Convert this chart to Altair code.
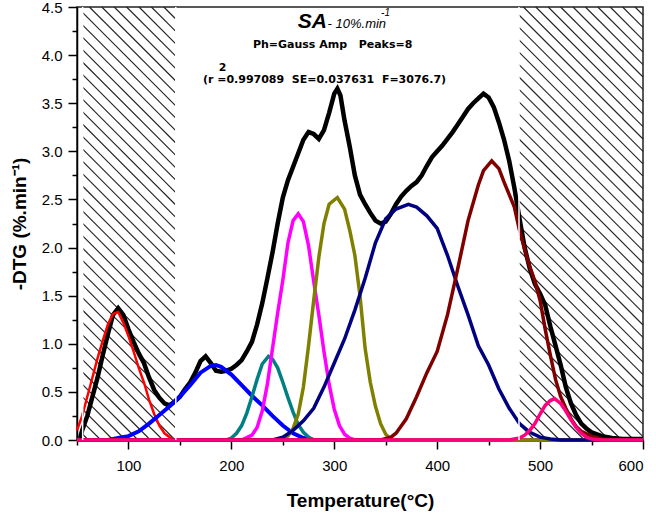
import altair as alt
import pandas as pd

# ---------------- data ----------------
T_DOMAIN = [50, 600]
DTG_DOMAIN = [0, 4.5]

exp_T = [53, 55, 60, 65, 70, 75, 80, 85, 90, 95, 100, 105, 110, 115, 120, 125, 130, 135, 140, 145,
         150, 155, 160, 165, 170, 175, 180, 185, 190, 195, 200, 205, 210, 215, 220, 225, 230,
         235, 240, 245, 250, 255, 260, 265, 270, 275, 280, 285, 290, 295, 300, 303, 306, 310,
         315, 320, 325, 330, 335, 340, 345, 350, 355, 360, 365, 370, 375, 380, 385, 390, 395,
         400, 405, 410, 415, 420, 425, 430, 435, 440, 445, 450, 455, 460, 465, 470, 475, 480,
         485, 490, 495, 500, 505, 510, 515, 520, 525, 530, 535, 540, 545, 550, 560, 570, 580, 600]
exp_DTG = [0.02, 0.10, 0.25, 0.45, 0.65, 0.88, 1.10, 1.30, 1.37, 1.30, 1.15, 1.02, 0.90, 0.80, 0.65,
           0.52, 0.44, 0.38, 0.36, 0.40, 0.45, 0.53, 0.60, 0.70, 0.82, 0.87, 0.80, 0.72, 0.71,
           0.72, 0.74, 0.78, 0.83, 0.92, 1.02, 1.20, 1.42, 1.68, 1.95, 2.25, 2.52, 2.70, 2.84,
           2.98, 3.12, 3.20, 3.18, 3.13, 3.22, 3.40, 3.60, 3.65, 3.58, 3.32, 3.05, 2.75, 2.55,
           2.45, 2.36, 2.28, 2.25, 2.27, 2.35, 2.45, 2.53, 2.59, 2.64, 2.68, 2.75, 2.85, 2.94,
           3.00, 3.06, 3.13, 3.20, 3.28, 3.36, 3.44, 3.50, 3.55, 3.60, 3.56, 3.46, 3.30, 3.12,
           2.90, 2.62, 2.30, 2.00, 1.78, 1.62, 1.52, 1.40, 1.18, 0.98, 0.78, 0.55, 0.38, 0.26,
           0.17, 0.12, 0.08, 0.04, 0.02, 0.01, 0.01]

p1_T = [50, 55, 60, 65, 70, 75, 80, 85, 90, 95, 100, 105, 110, 115, 120, 125, 130, 135, 140, 145, 600]
p1_DTG = [0.10, 0.25, 0.45, 0.65, 0.85, 1.03, 1.20, 1.31, 1.33, 1.22, 1.08, 0.92, 0.75, 0.60,
          0.42, 0.27, 0.15, 0.07, 0.03, 0.0, 0.0]

p2_T = [50, 80, 90, 100, 110, 120, 130, 140, 150, 160, 170, 180, 185, 190, 200, 210, 220, 230,
        240, 250, 260, 270, 280, 600]
p2_DTG = [0.0, 0.0, 0.02, 0.04, 0.09, 0.17, 0.26, 0.35, 0.45, 0.57, 0.70, 0.77, 0.78, 0.76,
          0.68, 0.57, 0.46, 0.36, 0.25, 0.15, 0.07, 0.02, 0.0, 0.0]

p3_T = [50, 195, 200, 205, 210, 215, 220, 225, 230, 236, 240, 245, 250, 255, 260, 265, 270, 275, 280, 600]
p3_DTG = [0.0, 0.0, 0.02, 0.07, 0.15, 0.28, 0.45, 0.63, 0.79, 0.87, 0.84, 0.75, 0.60, 0.44,
          0.29, 0.16, 0.08, 0.03, 0.0, 0.0]

p4_T = [50, 210, 220, 225, 230, 235, 240, 245, 250, 255, 260, 265, 270, 275, 280, 285, 290,
        295, 300, 305, 310, 315, 320, 600]
p4_DTG = [0.0, 0.0, 0.05, 0.13, 0.30, 0.58, 0.95, 1.32, 1.66, 2.05, 2.28, 2.35, 2.27, 2.02,
          1.65, 1.30, 0.92, 0.58, 0.32, 0.15, 0.06, 0.02, 0.0, 0.0]

p5_T = [50, 245, 255, 260, 265, 270, 275, 280, 285, 290, 295, 303, 310, 315, 320, 325, 330,
        335, 340, 345, 350, 355, 360, 600]
p5_DTG = [0.0, 0.0, 0.04, 0.12, 0.27, 0.55, 0.98, 1.45, 1.90, 2.25, 2.45, 2.52, 2.40, 2.18,
          1.92, 1.50, 0.95, 0.60, 0.35, 0.17, 0.06, 0.01, 0.0, 0.0]

p6_T = [50, 240, 250, 260, 270, 280, 290, 300, 310, 320, 330, 340, 350, 360, 372, 380, 390,
        400, 410, 420, 430, 440, 450, 460, 470, 480, 490, 500, 510, 520, 600]
p6_DTG = [0.0, 0.0, 0.03, 0.10, 0.20, 0.33, 0.55, 0.80, 1.05, 1.35, 1.68, 2.05, 2.30, 2.40,
          2.45, 2.42, 2.33, 2.20, 1.92, 1.60, 1.30, 0.98, 0.78, 0.53, 0.33, 0.17, 0.08, 0.03,
          0.01, 0.0, 0.0]

p7_T = [50, 345, 355, 360, 370, 380, 390, 400, 410, 420, 430, 440, 445, 453, 460, 465, 470,
        475, 480, 485, 490, 495, 500, 505, 510, 515, 520, 525, 530, 535, 540, 550, 560, 570, 600]
p7_DTG = [0.0, 0.0, 0.03, 0.07, 0.22, 0.45, 0.70, 0.92, 1.30, 1.78, 2.28, 2.65, 2.80, 2.90,
          2.82, 2.68, 2.55, 2.42, 2.18, 1.98, 1.80, 1.65, 1.45, 1.15, 0.88, 0.63, 0.45, 0.33,
          0.22, 0.14, 0.09, 0.04, 0.01, 0.0, 0.0]

p8_T = [50, 470, 480, 485, 490, 495, 500, 505, 510, 514, 520, 525, 530, 535, 540, 545, 550, 560, 600]
p8_DTG = [0.0, 0.0, 0.02, 0.05, 0.10, 0.17, 0.27, 0.36, 0.41, 0.43, 0.38, 0.30, 0.21, 0.13,
          0.07, 0.03, 0.01, 0.0, 0.0]

peaks = [
    (p1_T, p1_DTG, "#ff0000", 2.5),
    (p2_T, p2_DTG, "#0000ff", 4),
    (p3_T, p3_DTG, "#008080", 3.5),
    (p4_T, p4_DTG, "#ff00ff", 3.5),
    (p5_T, p5_DTG, "#808000", 3.5),
    (p6_T, p6_DTG, "#000080", 3.5),
    (p7_T, p7_DTG, "#800000", 3.5),
    (p8_T, p8_DTG, "#ff0080", 3.5),
]

hatch_left = [55.5, 146]
hatch_right = [479.5, 600]

x_major = [100, 200, 300, 400, 500, 600]
x_minor = [50, 150, 250, 350, 450, 550]
y_major = [0.0, 0.5, 1.0, 1.5, 2.0, 2.5, 3.0, 3.5, 4.0, 4.5]
y_minor = [0.25, 0.75, 1.25, 1.75, 2.25, 2.75, 3.25, 3.75, 4.25]

# ---------------- layout ----------------
W, H = 566, 433
PAD = {"left": 77, "top": 7, "right": 13, "bottom": 78}

xs = alt.Scale(domain=T_DOMAIN, nice=False, zero=False)
ys = alt.Scale(domain=DTG_DOMAIN, nice=False, zero=False)

# hatch segments (45 degree "\" lines, computed in pixel space then mapped to data)
def to_data(px, py):
    return (T_DOMAIN[0] + px * (T_DOMAIN[1] - T_DOMAIN[0]) / W,
            DTG_DOMAIN[1] - py * (DTG_DOMAIN[1] - DTG_DOMAIN[0]) / H)

spacing = 12.4
segs = []
for a, b in (hatch_left, hatch_right):
    xa = (a - T_DOMAIN[0]) * W / (T_DOMAIN[1] - T_DOMAIN[0])
    xb = (b - T_DOMAIN[0]) * W / (T_DOMAIN[1] - T_DOMAIN[0])
    k = int(-xb // spacing) - 1
    while k * spacing < H - xa:
        c = k * spacing
        lo = max(xa, -c)
        hi = min(xb, H - c)
        if hi > lo:
            t1, d1 = to_data(lo, lo + c)
            t2, d2 = to_data(hi, hi + c)
            segs.append({"t1": t1, "d1": d1, "t2": t2, "d2": d2})
        k += 1
hatch_df = pd.DataFrame(segs)

hatch = alt.Chart(hatch_df).mark_rule(color="#222222", strokeWidth=1.1).encode(
    x=alt.X("t1:Q", scale=xs, axis=alt.Axis(values=x_major, orient="bottom", title="Temperature(°C)",
                                               tickSize=9, labelPadding=9, titlePadding=18,
                                               titleFontSize=19, titleFontWeight="bold",
                                               titleFont="Liberation Sans", grid=False)),
    y=alt.Y("d1:Q", scale=ys, axis=alt.Axis(values=y_major, format=".1f", orient="left",
                                               title="-DTG (%.min⁻¹)", tickSize=9, labelPadding=6,
                                               titlePadding=12, titleFontSize=19,
                                               titleFontWeight="bold", titleFont="Liberation Sans",
                                               grid=False)),
    x2="t2:Q",
    y2="d2:Q",
)

minor_df = pd.DataFrame({"T": [T_DOMAIN[0]], "D": [DTG_DOMAIN[0]]})
minor = alt.Chart(minor_df).mark_point(opacity=0).encode(
    x=alt.X("T:Q", scale=xs, axis=alt.Axis(values=x_minor, orient="bottom", labels=False,
                                             tickSize=5, domain=False, title=None, grid=False)),
    y=alt.Y("D:Q", scale=ys, axis=alt.Axis(values=y_minor, orient="left", labels=False,
                                             tickSize=5, domain=False, title=None, grid=False)),
)

layers = [hatch, minor]

exp_df = pd.DataFrame({"T": exp_T, "D": exp_DTG})
layers.append(alt.Chart(exp_df).mark_line(color="black", strokeWidth=4.5).encode(
    x=alt.X("T:Q", scale=xs, axis=None), y=alt.Y("D:Q", scale=ys, axis=None)))

for t, d, col, sw in peaks:
    df = pd.DataFrame({"T": t, "D": d})
    layers.append(alt.Chart(df).mark_line(color=col, strokeWidth=sw).encode(
        x=alt.X("T:Q", scale=xs, axis=None), y=alt.Y("D:Q", scale=ys, axis=None)))

edge_df = pd.DataFrame({"T": [hatch_left[0], hatch_left[1], hatch_right[0]]})
layers.append(alt.Chart(edge_df).mark_rule(color="white", strokeWidth=1.5).encode(
    x=alt.X("T:Q", scale=xs, axis=None),
    y=alt.value(0), y2=alt.value(H)))


def label(text, t, d, **kw):
    df = pd.DataFrame({"T": [t], "D": [d], "txt": [text]})
    return alt.Chart(df).mark_text(**kw).encode(
        x=alt.X("T:Q", scale=xs, axis=None), y=alt.Y("D:Q", scale=ys, axis=None),
        text="txt:N")


layers += [
    label("SA", 292.9, 4.28, align="right", baseline="alphabetic", fontSize=21,
          fontWeight="bold", fontStyle="italic", font="Liberation Sans"),
    label("- 10%.min", 293.5, 4.28, align="left", baseline="alphabetic", fontSize=13,
          fontStyle="italic", font="Liberation Sans"),
    label("-1", 345.5, 4.41, align="left", baseline="alphabetic", fontSize=10,
          fontStyle="italic", font="Liberation Sans"),
    label("Ph=Gauss Amp", 266.7, 4.07, align="center", baseline="alphabetic", fontSize=11,
          fontWeight="bold", font="DejaVu Sans"),
    label("Peaks=8", 349.8, 4.07, align="center", baseline="alphabetic", fontSize=11,
          fontWeight="bold", font="DejaVu Sans"),
    label("(r =0.997089\u00a0\u00a0SE=0.037631\u00a0\u00a0F=3076.7)", 290.5, 3.71,
          align="center", baseline="alphabetic", fontSize=11, fontWeight="bold",
          font="DejaVu Sans"),
    label("2", 191.5, 3.83, align="center", baseline="alphabetic", fontSize=11,
          fontWeight="bold", font="DejaVu Sans"),
]

chart = alt.layer(*layers).resolve_axis(x="independent", y="independent").properties(
    width=W, height=H, autosize=alt.AutoSizeParams(type="none"), padding=PAD,
).configure_view(stroke="#222222", strokeWidth=1.5).configure_axis(
    labelFont="Liberation Sans", labelFontSize=15, labelColor="black",
    domainColor="black", domainWidth=1.5, tickColor="black", tickWidth=1.5,
    titleColor="black",
)

chart.save("out.html", embed_options={"renderer": "svg", "actions": False})
